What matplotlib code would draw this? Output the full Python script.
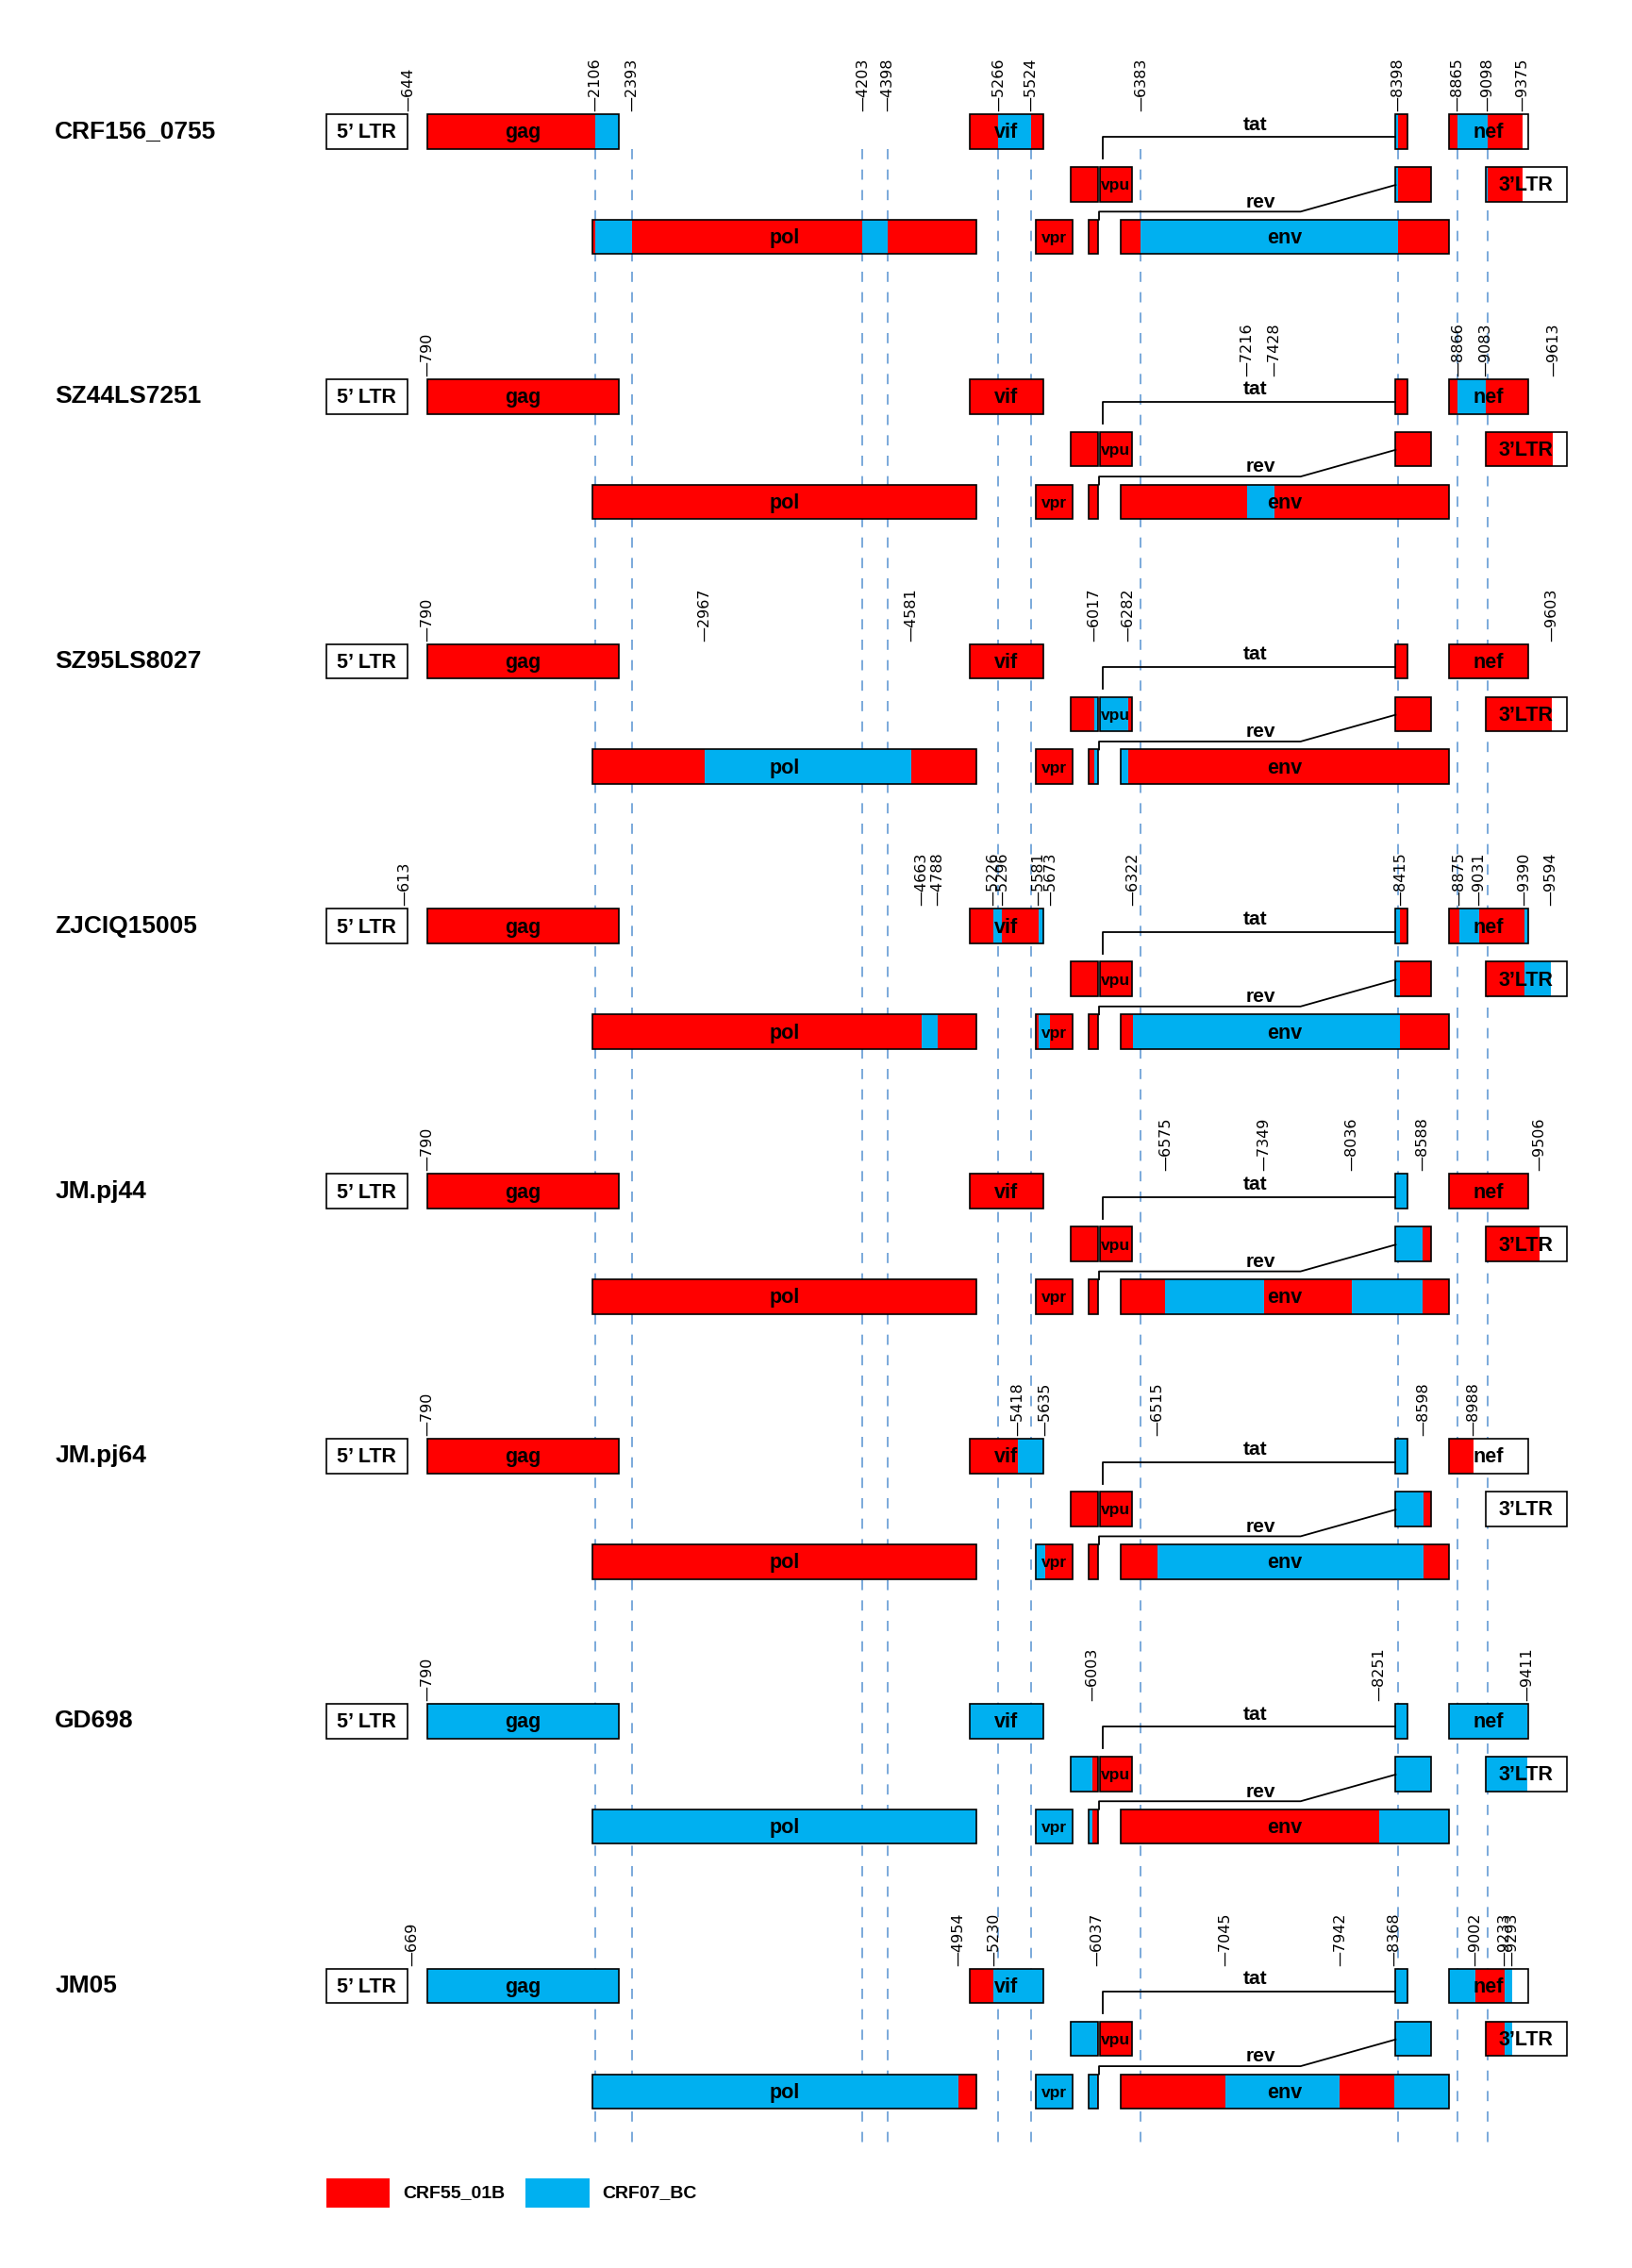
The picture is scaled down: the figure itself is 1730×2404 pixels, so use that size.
import matplotlib
matplotlib.use('Agg')
import matplotlib.pyplot as plt
from matplotlib.patches import Rectangle
from matplotlib.transforms import blended_transform_factory

plt.rcParams['font.family'] = ['Liberation Sans', 'DejaVu Sans']

# strains and their recombination breakpoints (HXB2 numbering)
strains = ['CRF156_0755', 'SZ44LS7251', 'SZ95LS8027', 'ZJCIQ15005',
           'JM.pj44', 'JM.pj64', 'GD698', 'JM05']
breakpoints = [
    [644, 2106, 2393, 4203, 4398, 5266, 5524, 6383, 8398, 8865, 9098, 9375],
    [790, 7216, 7428, 8866, 9083, 9613],
    [790, 2967, 4581, 6017, 6282, 9603],
    [613, 4663, 4788, 5226, 5296, 5581, 5673, 6322, 8415, 8875, 9031, 9390, 9594],
    [790, 6575, 7349, 8036, 8588, 9506],
    [790, 5418, 5635, 6515, 8598, 8988],
    [790, 6003, 8251, 9411],
    [669, 4954, 5230, 6037, 7045, 7942, 8368, 9002, 9233, 9293],
]
# parent of the first segment, segments then alternate
first_parent = ['CRF55_01B', 'CRF55_01B', 'CRF55_01B', 'CRF55_01B',
                'CRF55_01B', 'CRF55_01B', 'CRF07_BC', 'CRF07_BC']
parents = ['CRF55_01B', 'CRF07_BC']
parent_colors = {'CRF55_01B': '#FF0000', 'CRF07_BC': '#00B0F0'}

# genome map
gene_names = ['gag', 'pol', 'vif', 'vpr', 'tat1', 'rev1', 'vpu', 'env', 'tat2', 'rev2', 'nef', '3LTR']
gene_labels = ['gag', 'pol', 'vif', 'vpr', '', '', 'vpu', 'env', '', '', 'nef', '3\u2019LTR']
gene_start = [790, 2085, 5041, 5559, 5831, 5970, 6062, 6225, 8379, 8379, 8797, 9086]
gene_end = [2292, 5096, 5619, 5850, 6045, 6045, 6310, 8795, 8469, 8653, 9417, 9719]
gene_row = [0, 2, 0, 2, 1, 2, 1, 2, 0, 1, 0, 1]
ltr5 = (1, 634)

guide_lines = [2106, 2393, 4203, 4398, 5266, 5524, 6383, 8398, 8865, 9098]

fig = plt.figure(figsize=(17.3, 24.04), dpi=100)
ax = fig.add_axes([0, 0, 1, 1])
ax.set_xlim(-2556, 10231)
ax.set_ylim(1570, 0)
ax.axis('off')
tr = blended_transform_factory(ax.transAxes, ax.transData)

ax.vlines(guide_lines, 103, 1488, colors='#6FA3D8', linestyles=(0, (6, 6)), lw=1.3, zorder=0)

h = 12  # half box height
idx = {n: k for k, n in enumerate(gene_names)}

for i, name in enumerate(strains):
    y0 = 91 + 183.4 * i
    rows = [y0, y0 + 36.5, y0 + 73]

    ax.text(38 / 1130, y0, name, transform=tr, ha='left', va='center',
            fontsize=19, fontweight='bold')

    # segments
    bps = breakpoints[i]
    p = parents.index(first_parent[i])
    segs = []
    for j in range(len(bps) - 1):
        segs.append((bps[j], bps[j + 1], parent_colors[parents[p]]))
        p = 1 - p

    # 5' LTR
    ax.add_patch(Rectangle((ltr5[0], y0 - h), ltr5[1] - ltr5[0], 2 * h,
                           fc='white', ec='black', lw=1.2, zorder=3))
    ax.text((ltr5[0] + ltr5[1]) / 2, y0 + 1, '5\u2019 LTR', ha='center', va='center',
            fontsize=15.5, fontweight='bold', zorder=5)

    for g in range(len(gene_names)):
        s, e = gene_start[g], gene_end[g]
        yc = rows[gene_row[g]]
        ax.add_patch(Rectangle((s, yc - h), e - s, 2 * h, fc='white', ec='none', zorder=2))
        for a, b, c in segs:
            lo, hi = max(a, s), min(b, e)
            if hi > lo:
                ax.add_patch(Rectangle((lo, yc - h), hi - lo, 2 * h, fc=c, ec='none', zorder=3))
        ax.add_patch(Rectangle((s, yc - h), e - s, 2 * h, fc='none', ec='black', lw=1.2, zorder=4))
        if gene_labels[g]:
            fs = 12.5 if e - s < 400 else 15.5
            ax.text((s + e) / 2, yc + 1, gene_labels[g], ha='center', va='center',
                    fontsize=fs, fontweight='bold', zorder=5)

    # tat / rev splicing connectors
    tx = gene_start[idx['vpu']] + 20
    ax.plot([tx, tx, gene_start[idx['tat2']]], [y0 + 19, y0 + 4, y0 + 4],
            color='black', lw=1.3, zorder=4)
    ax.text(7277, y0 + 1.5, 'tat', ha='center', va='bottom', fontsize=15, fontweight='bold')
    rx = gene_end[idx['rev1']] + 10
    ax.plot([rx, rx, 7634, gene_start[idx['rev2']]], [y0 + 61, y0 + 55.5, y0 + 55.5, y0 + 37],
            color='black', lw=1.3, zorder=4)
    ax.text(7325, y0 + 55, 'rev', ha='center', va='bottom', fontsize=15, fontweight='bold')

    # breakpoint labels
    for bp in bps:
        ax.text(bp, y0 - h - 2, '\u2014' + str(bp), rotation=90, ha='center', va='bottom',
                fontsize=11.5, family='DejaVu Sans', zorder=5)

# legend
for k, par in enumerate(parents):
    x = (226 + 138 * k) / 1130
    ax.add_patch(Rectangle((x, 1508), 44 / 1130, 20, transform=tr,
                           fc=parent_colors[par], ec='none'))
    ax.text(x + 53 / 1130, 1518, par, transform=tr, ha='left', va='center',
            fontsize=14, fontweight='bold')

fig.savefig('out.png', dpi=100)
